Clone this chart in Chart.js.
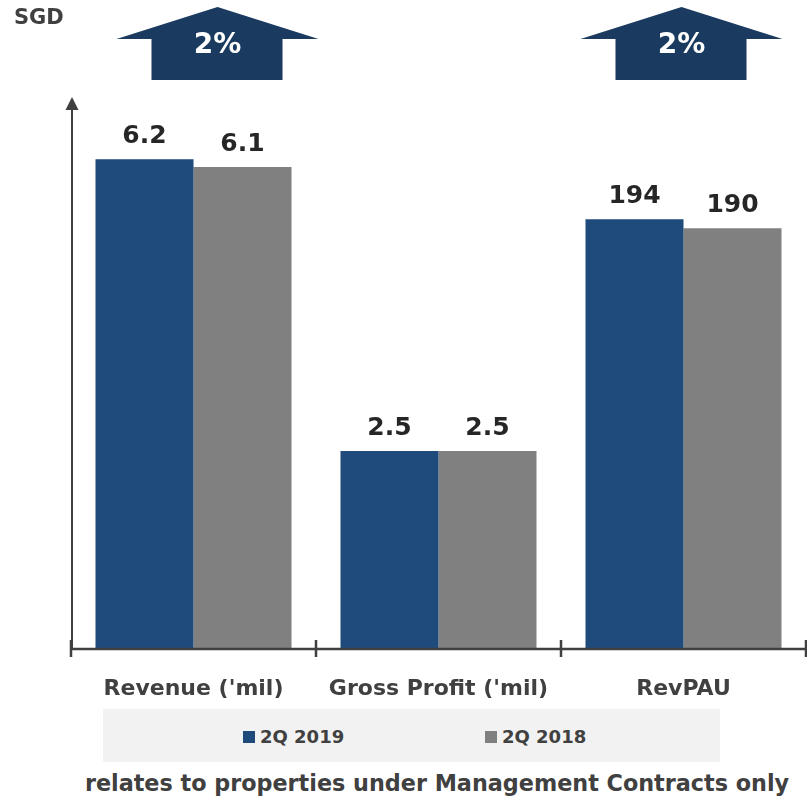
<!DOCTYPE html>
<html>
<head>
<meta charset="utf-8">
<script src="https://cdn.jsdelivr.net/npm/chart.js@4"></script>
<style>
  html, body { margin: 0; padding: 0; background: #fff; }
  #wrap { position: relative; width: 807px; height: 800px; overflow: hidden; font-family: 'DejaVu Sans', sans-serif; }
  #chartBox { position: absolute; left: 0; top: 0; width: 807px; height: 705px; }
  #legend {
    position: absolute; left: 103px; top: 709px; width: 617px; height: 53px;
    background: #f2f2f2; font-weight: bold; font-size: 18px; color: #404040;
  }
  .item { position: absolute; top: 0; height: 53px; line-height: 56px; white-space: nowrap; }
  .swatch { display: inline-block; width: 12px; height: 12px; margin-right: 5px; vertical-align: 0px; }
  #note {
    position: absolute; left: 0; width: 807px; top: 770px; text-align: center;
    font-weight: bold; font-size: 22.3px; color: #404040; white-space: nowrap; padding-left: 67px; box-sizing: border-box;
  }
</style>
</head>
<body>
<div id="wrap">
  <div id="chartBox"><canvas id="chart"></canvas></div>
  <div id="legend"></div>
  <div id="note">relates to properties under Management Contracts only</div>
</div>
<script>
'use strict';

// ── Data ──
const categories = ["Revenue ('mil)", "Gross Profit ('mil)", 'RevPAU'];
const seriesLabels = ['2Q 2019', '2Q 2018'];
const values2019 = [6.2, 2.5, 194];
const values2018 = [6.1, 2.5, 190];
const changeLabels = ['2%', null, '2%'];
const rightAxisCategories = ['RevPAU'];   // plotted on their own scale
const unitLabel = 'SGD';

const COLORS = ['#1f4a7c', '#808080'];
const TEXT_DARK = '#404040';
const ARROW_COLOR = '#1b3a5f';
const FONT = "'DejaVu Sans', sans-serif";

// split each series into a left-axis part and a right-axis part
function onAxis(values, right) {
  return values.map((v, i) => (rightAxisCategories.includes(categories[i]) === right ? v : null));
}

const datasets = [];
[values2019, values2018].forEach((vals, s) => {
  datasets.push({ label: seriesLabels[s], data: onAxis(vals, false), yAxisID: 'y', backgroundColor: COLORS[s] });
});
[values2019, values2018].forEach((vals, s) => {
  datasets.push({ label: seriesLabels[s], data: onAxis(vals, true), yAxisID: 'y1', backgroundColor: COLORS[s] });
});

/* ═══════════════════════════════════════════════
   PLUGINS
═══════════════════════════════════════════════ */

const valueLabels = {
  id: 'valueLabels',
  afterDatasetsDraw(chart) {
    const { ctx } = chart;
    ctx.save();
    ctx.font = 'bold 25px ' + FONT;
    ctx.fillStyle = '#262626';
    ctx.textAlign = 'center';
    ctx.textBaseline = 'alphabetic';
    chart.data.datasets.forEach((ds, d) => {
      chart.getDatasetMeta(d).data.forEach((bar, i) => {
        if (ds.data[i] == null) return;
        ctx.fillText(String(ds.data[i]), bar.x, bar.y - 16);
      });
    });
    ctx.restore();
  },
};

const axesAndArrows = {
  id: 'axesAndArrows',
  afterDraw(chart) {
    const { ctx, chartArea } = chart;
    const { left, right, top, bottom } = chartArea;
    const x = chart.scales.x;
    ctx.save();
    ctx.strokeStyle = TEXT_DARK;
    ctx.fillStyle = TEXT_DARK;
    ctx.lineWidth = 2.5;

    // x axis with crossing ticks at category boundaries
    ctx.beginPath();
    ctx.moveTo(left, bottom + 1);
    ctx.lineTo(right + 2, bottom + 1);
    const step = (right - left) / categories.length;
    for (let i = 0; i <= categories.length; i++) {
      const tx = Math.min(left + i * step, right);
      ctx.moveTo(tx, bottom - 8);
      ctx.lineTo(tx, bottom + 9);
    }
    ctx.stroke();

    // y axis with arrow head
    ctx.lineWidth = 2;
    ctx.beginPath();
    ctx.moveTo(left + 1, bottom);
    ctx.lineTo(left + 1, top + 8);
    ctx.stroke();
    ctx.beginPath();
    ctx.moveTo(left + 1, top - 3);
    ctx.lineTo(left - 5.5, top + 10);
    ctx.lineTo(left + 7.5, top + 10);
    ctx.closePath();
    ctx.fill();

    // unit label
    ctx.font = 'bold 21px ' + FONT;
    ctx.textAlign = 'left';
    ctx.textBaseline = 'middle';
    ctx.fillText(unitLabel, 14, 19);

    // change arrows above groups
    const arrowShift = [24, 0, -2];
    changeLabels.forEach((txt, i) => {
      if (!txt) return;
      const cx = x.getPixelForValue(i) + arrowShift[i];
      ctx.fillStyle = ARROW_COLOR;
      ctx.beginPath();
      ctx.moveTo(cx, 7);
      ctx.lineTo(cx + 101, 39);
      ctx.lineTo(cx + 65, 39);
      ctx.lineTo(cx + 65, 80);
      ctx.lineTo(cx - 66, 80);
      ctx.lineTo(cx - 66, 39);
      ctx.lineTo(cx - 101, 39);
      ctx.closePath();
      ctx.fill();
      ctx.fillStyle = '#ffffff';
      ctx.font = 'bold 28px ' + FONT;
      ctx.textAlign = 'center';
      ctx.textBaseline = 'middle';
      ctx.fillText(txt, cx, 46);
    });
    ctx.restore();
  },
};

/* ═══════════════════════════════════════════════
   CHART
═══════════════════════════════════════════════ */

new Chart(document.getElementById('chart').getContext('2d'), {
  type: 'bar',
  data: { labels: categories, datasets },
  options: {
    responsive: true,
    maintainAspectRatio: false,
    animation: false,
    layout: { padding: { left: 71, right: 1, top: 100, bottom: 0 } },
    datasets: { bar: { skipNull: true, categoryPercentage: 0.8, barPercentage: 1.0 } },
    plugins: { legend: { display: false }, tooltip: { enabled: false } },
    scales: {
      x: {
        offset: true,
        grid: { display: false, drawTicks: false },
        border: { display: false },
        ticks: { color: TEXT_DARK, font: { family: FONT, size: 22, weight: 'bold' }, padding: 28, maxRotation: 0 },
        afterFit(scale) { scale.height = 57; },
      },
      y: { display: false, min: 0, max: 6.95 },
      y1: { display: false, min: 0, max: 248 },
    },
  },
  plugins: [valueLabels, axesAndArrows],
});

// ── HTML legend in grey box ──
const legendPos = [140, 382];
const legendEl = document.getElementById('legend');
seriesLabels.forEach((lbl, s) => {
  const item = document.createElement('div');
  item.className = 'item';
  item.style.left = legendPos[s] + 'px';
  item.innerHTML = '<span class="swatch" style="background:' + COLORS[s] + '"></span>' + lbl;
  legendEl.appendChild(item);
});
</script>
</body>
</html>
